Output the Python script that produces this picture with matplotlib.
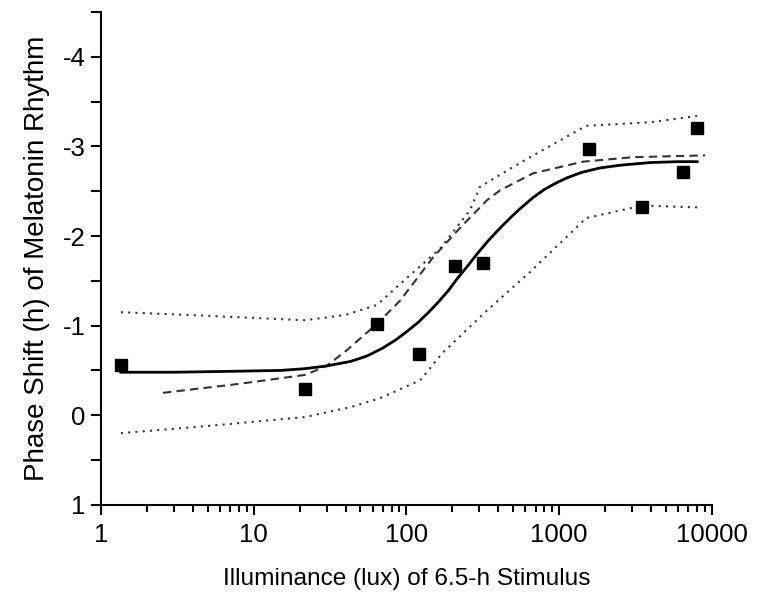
import matplotlib
matplotlib.use("Agg")
import matplotlib.pyplot as plt
import matplotlib.ticker as mticker
import numpy as np

################################################################
# Data

# measured phase shifts
lux_pts = [1.35, 21.7, 64, 121, 208, 318, 1570, 3490, 6475, 8000]
shift_pts = [-0.56, -0.29, -1.02, -0.68, -1.67, -1.70, -2.97, -2.32, -2.71, -3.21]

# fitted dose-response curve (solid)
lux_fit = [1.35, 3, 7, 15, 21.7, 30, 43, 55, 70, 85, 100, 120, 140, 165, 190,
           214, 250, 290, 340, 400, 470, 550, 675, 800, 950, 1127, 1400, 1853,
           2500, 3940, 6000, 8000]
shift_fit = [-0.48, -0.48, -0.49, -0.50, -0.52, -0.55, -0.60, -0.66, -0.75, -0.84,
             -0.93, -1.04, -1.15, -1.28, -1.40, -1.52, -1.66, -1.80, -1.94, -2.07,
             -2.19, -2.30, -2.43, -2.52, -2.59, -2.65, -2.71, -2.76, -2.79, -2.82,
             -2.83, -2.83]

# alternative fit (dashed)
lux_dash = [2.55, 8, 21.7, 30, 41, 65, 91, 149, 224, 337, 410, 675, 1435, 3050, 9020]
shift_dash = [-0.25, -0.35, -0.45, -0.55, -0.73, -1.03, -1.28, -1.76, -2.09, -2.40,
              -2.51, -2.70, -2.83, -2.88, -2.90]

# upper confidence band (dotted)
lux_up = [1.35, 5, 21.7, 40, 64, 105, 166, 261, 303, 600, 1500, 4000, 8000]
shift_up = [-1.15, -1.11, -1.06, -1.12, -1.23, -1.56, -1.86, -2.29, -2.55, -2.85,
            -3.23, -3.27, -3.34]

# lower confidence band (dotted)
lux_lo = [1.35, 5, 21.7, 43, 67, 123, 171, 337, 646, 1500, 3500, 8000]
shift_lo = [0.20, 0.12, 0.02, -0.09, -0.19, -0.39, -0.69, -1.17, -1.60, -2.20,
            -2.34, -2.32]

################################################################
# Plot

plt.rcParams['font.family'] = ['Liberation Sans', 'DejaVu Sans']

fig = plt.figure(figsize=(7.59, 6.01), dpi=100)
ax = fig.add_axes([0.133, 0.160, 0.805, 0.820])

ax.plot(lux_up, shift_up, color='#333333', lw=1.5, linestyle=(0, (1, 2.5)))
ax.plot(lux_lo, shift_lo, color='#333333', lw=1.5, linestyle=(0, (1, 2.5)))
ax.plot(lux_dash, shift_dash, color='#333333', lw=1.5, linestyle=(0, (4, 2.5)))
ax.plot(lux_fit, shift_fit, color='k', lw=2.0, linestyle='-')
ax.plot(lux_pts, shift_pts, linestyle='none', marker='s', ms=8,
        color='k', mec='k')

ax.set_xscale('log')
ax.set_xlim(1, 10000)
ax.set_ylim(1, -4.5)

ax.xaxis.set_major_locator(mticker.LogLocator(base=10, numticks=10))
ax.xaxis.set_minor_locator(mticker.LogLocator(base=10, subs=np.arange(2, 10), numticks=20))
ax.xaxis.set_major_formatter(mticker.FuncFormatter(lambda v, p: '%d' % v))
ax.xaxis.set_minor_formatter(mticker.NullFormatter())
ax.yaxis.set_major_locator(mticker.MultipleLocator(1))
ax.yaxis.set_minor_locator(mticker.MultipleLocator(0.5))
ax.yaxis.set_major_formatter(mticker.FuncFormatter(lambda v, p: '%d' % v))

for s in ['top', 'right']:
    ax.spines[s].set_visible(False)
for s in ['left', 'bottom']:
    ax.spines[s].set_linewidth(1.5)

ax.tick_params(axis='both', which='major', direction='out', width=1.5,
               length=7, labelsize=18.5)
ax.tick_params(axis='x', which='minor', direction='out', width=1.5, length=5)
ax.tick_params(axis='y', which='minor', direction='out', width=1.5, length=7)
ax.tick_params(axis='x', which='major', pad=6)
ax.tick_params(axis='y', which='major', pad=4)

ax.set_xlabel('Illuminance (lux) of 6.5-h Stimulus', fontsize=17.6, labelpad=15)
ax.set_ylabel('Phase Shift (h) of Melatonin Rhythm', fontsize=20, labelpad=9)

fig.savefig('out.png', dpi=100)
